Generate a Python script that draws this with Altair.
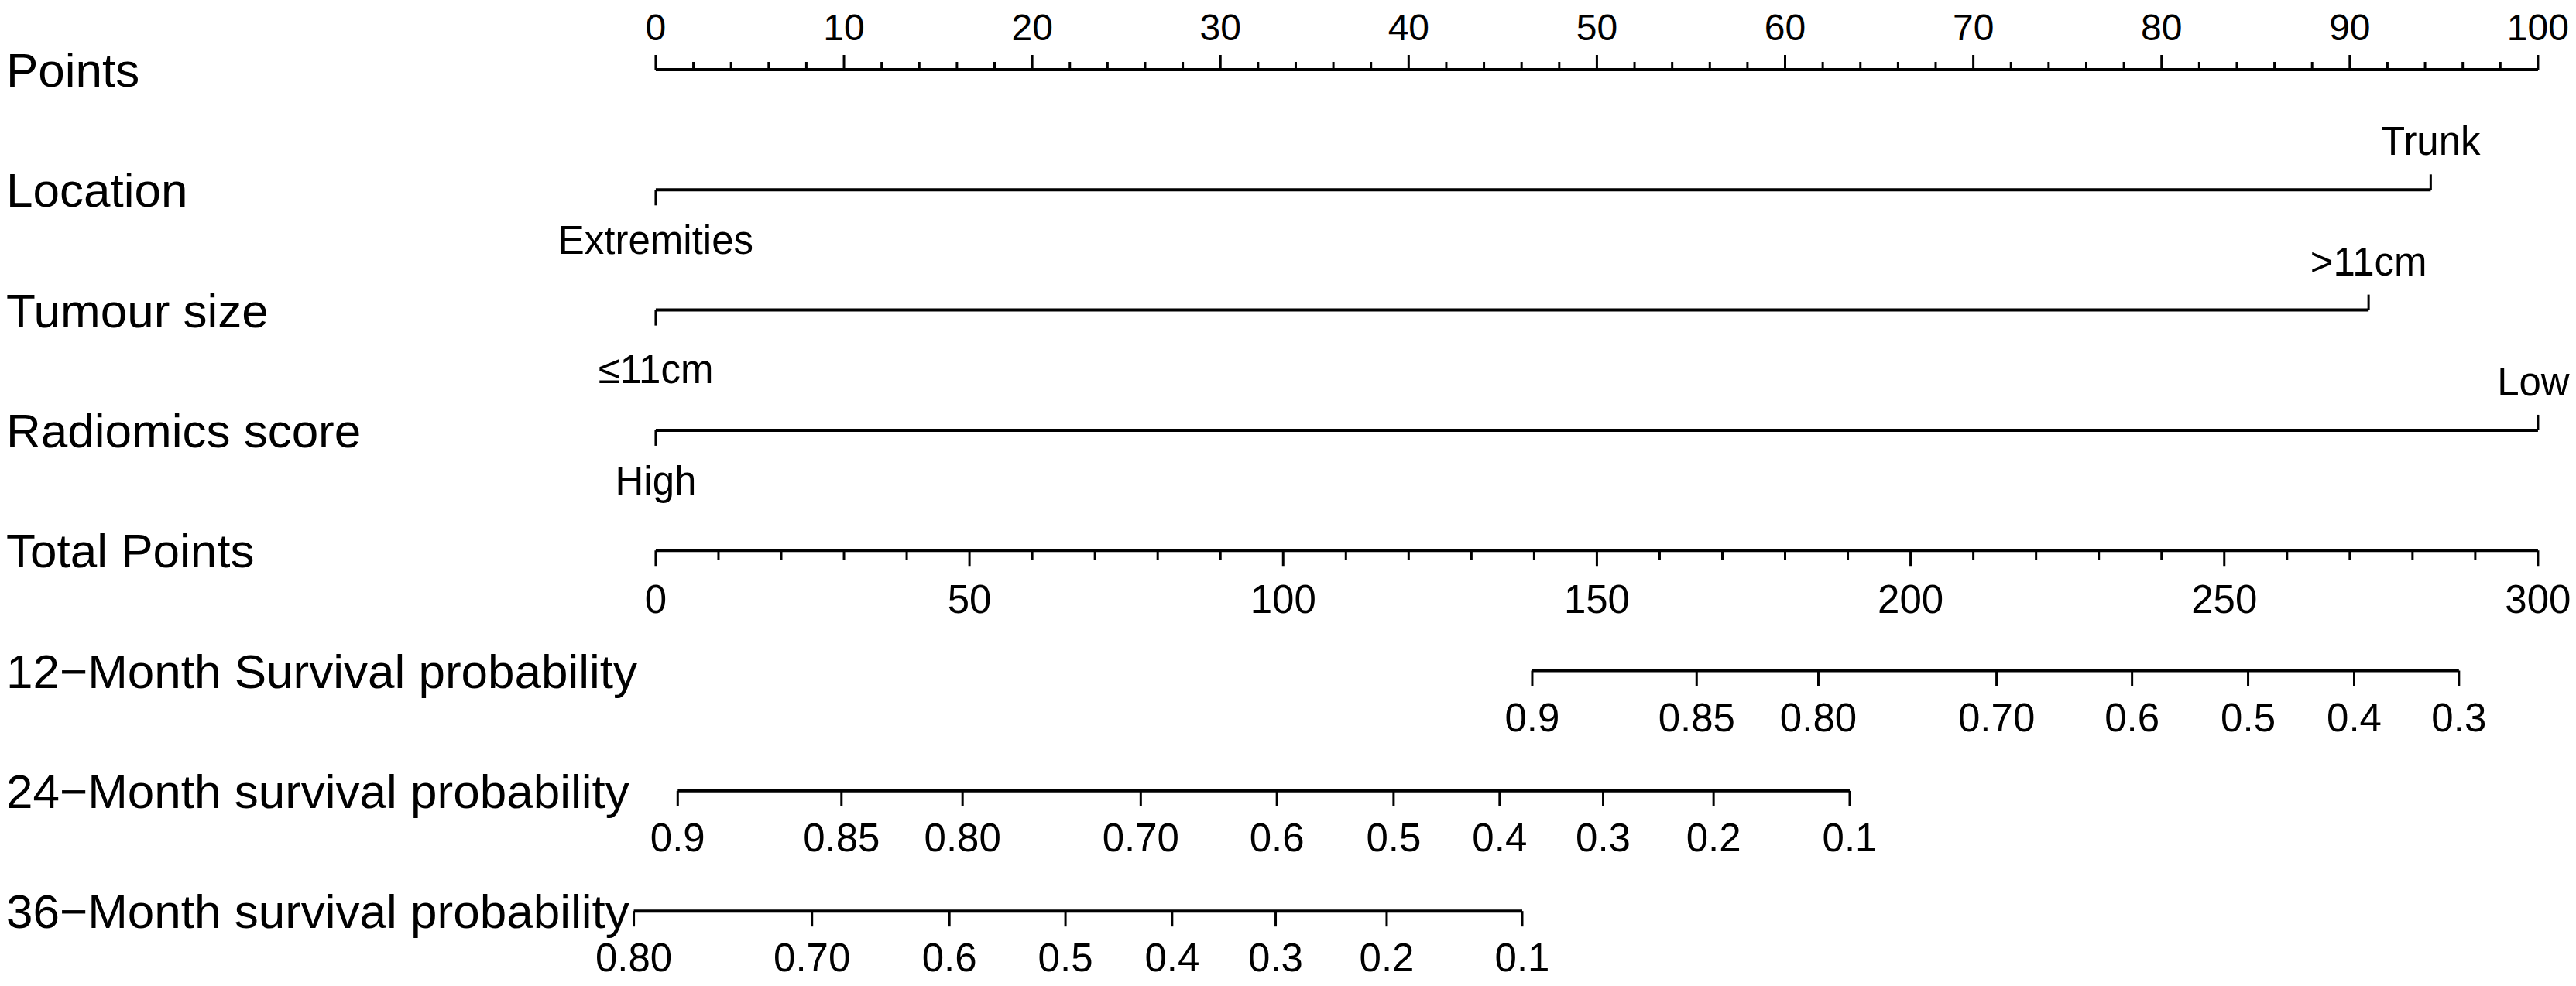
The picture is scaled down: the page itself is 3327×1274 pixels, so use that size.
import altair as alt
import pandas as pd

# ---------------- data ----------------
row_names = ["Points", "Location", "Tumour size", "Radiomics score", "Total Points",
             "12\u2212Month Survival probability", "24\u2212Month survival probability",
             "36\u2212Month survival probability"]

points_major = [0, 10, 20, 30, 40, 50, 60, 70, 80, 90, 100]
points_minor = [2, 4, 6, 8, 12, 14, 16, 18, 22, 24, 26, 28, 32, 34, 36, 38, 42, 44, 46, 48,
                52, 54, 56, 58, 62, 64, 66, 68, 72, 74, 76, 78, 82, 84, 86, 88, 92, 94, 96, 98]

location_levels = ["Extremities", "Trunk"]
location_points = [0, 94.3]
tumour_levels = ["\u226411cm", ">11cm"]
tumour_points = [0, 91.0]
radiomics_levels = ["High", "Low"]
radiomics_points = [0, 100]

total_major = [0, 50, 100, 150, 200, 250, 300]
total_minor = [10, 20, 30, 40, 60, 70, 80, 90, 110, 120, 130, 140, 160, 170, 180, 190,
               210, 220, 230, 240, 260, 270, 280, 290]

surv12_labels = ["0.9", "0.85", "0.80", "0.70", "0.6", "0.5", "0.4", "0.3"]
surv12_total = [139.7, 165.9, 185.3, 213.7, 235.3, 253.8, 270.7, 287.4]
surv24_labels = ["0.9", "0.85", "0.80", "0.70", "0.6", "0.5", "0.4", "0.3", "0.2", "0.1"]
surv24_total = [3.5, 29.6, 48.9, 77.3, 99.0, 117.6, 134.5, 151.0, 168.6, 190.3]
surv36_labels = ["0.80", "0.70", "0.6", "0.5", "0.4", "0.3", "0.2", "0.1"]
surv36_total = [-3.5, 24.9, 46.8, 65.3, 82.3, 98.8, 116.5, 138.1]

TOTAL_MAX = 300.0
POINTS_MAX = 100.0


def tp(v):
    # total points -> points scale
    return v * POINTS_MAX / TOTAL_MAX


# ---------------- tables ----------------
names_df = pd.DataFrame({"row": list(range(len(row_names))), "name": row_names})

cat_rows = [(1, location_levels, location_points),
            (2, tumour_levels, tumour_points),
            (3, radiomics_levels, radiomics_points)]
surv_rows = [(5, surv12_labels, surv12_total),
             (6, surv24_labels, surv24_total),
             (7, surv36_labels, surv36_total)]

line_recs = [{"row": 0, "x0": min(points_major), "x1": max(points_major)}]
for r, lv, pts in cat_rows:
    line_recs.append({"row": r, "x0": min(pts), "x1": max(pts)})
line_recs.append({"row": 4, "x0": tp(min(total_major)), "x1": tp(max(total_major))})
for r, lv, tot in surv_rows:
    line_recs.append({"row": r, "x0": tp(min(tot)), "x1": tp(max(tot))})
lines_df = pd.DataFrame(line_recs)

pmaj_df = pd.DataFrame({"row": 0, "x": points_major, "label": [str(v) for v in points_major]})
pmin_df = pd.DataFrame({"row": 0, "x": points_minor})

cat_up, cat_down = [], []
for r, lv, pts in cat_rows:
    cat_down.append({"row": r, "x": pts[0], "label": lv[0]})
    cat_up.append({"row": r, "x": pts[1], "label": lv[1]})
cat_up_df = pd.DataFrame(cat_up)
cat_down_df = pd.DataFrame(cat_down)
cat_up_a = cat_up_df[cat_up_df["row"] != 3]
cat_up_b = cat_up_df[cat_up_df["row"] == 3]
cat_down_a = cat_down_df[cat_down_df["row"] != 2]
cat_down_b = cat_down_df[cat_down_df["row"] == 2]

tmaj_df = pd.DataFrame({"row": 4, "x": [tp(v) for v in total_major],
                        "label": [str(v) for v in total_major]})
tmin_df = pd.DataFrame({"row": 4, "x": [tp(v) for v in total_minor]})

surv_recs = []
for r, lab, tot in surv_rows:
    for l, t in zip(lab, tot):
        surv_recs.append({"row": r, "x": tp(t), "label": l})
surv_df = pd.DataFrame(surv_recs)

# ---------------- scales ----------------
W, H = 3311, 1258
xs = alt.Scale(domain=[-34.51, 101.69], nice=False, zero=False)
ys = alt.Scale(domain=[-0.528, 7.572], nice=False, zero=False, reverse=True)
X = lambda f: alt.X(f, type="quantitative", scale=xs, axis=None)
Y = lambda f: alt.Y(f, type="quantitative", scale=ys, axis=None)

FONT = "Liberation Sans"
LW = 4
TW = 3

hlines = alt.Chart(lines_df).mark_rule(strokeWidth=LW, color="black").encode(
    x=X("x0"), x2="x1", y=Y("row"))


def ticks(df, off):
    return alt.Chart(df).mark_rule(strokeWidth=TW, color="black", y2Offset=off).encode(
        x=X("x"), y=Y("row"), y2="row")


def labels(df, dy, size=51, dx=0):
    return alt.Chart(df).mark_text(font=FONT, fontSize=size, align="center",
                                   baseline="alphabetic", dy=dy, dx=dx, color="black").encode(
        x=X("x"), y=Y("row"), text="label:N")


row_text = alt.Chart(names_df).mark_text(font=FONT, fontSize=62, align="left",
                                         baseline="alphabetic", dy=22, color="black").encode(
    x=alt.value(0), y=Y("row"), text="name:N")

chart = alt.layer(
    hlines,
    ticks(pmaj_df, -19), ticks(pmin_df, -10), labels(pmaj_df, -38, 48),
    ticks(cat_up_df, -20), labels(cat_up_a, -45), labels(cat_up_b, -45, dx=-6),
    ticks(cat_down_df, 20), labels(cat_down_a, 83), labels(cat_down_b, 94),
    ticks(tmaj_df, 20), ticks(tmin_df, 12), labels(tmaj_df, 81),
    ticks(surv_df, 20), labels(surv_df, 78),
    row_text,
).properties(
    width=W, height=H, padding=0, autosize=alt.AutoSizeParams(type="none"),
    background="white"
).configure_view(stroke=None)

chart.save("out.html", embed_options={"renderer": "svg", "actions": False})
